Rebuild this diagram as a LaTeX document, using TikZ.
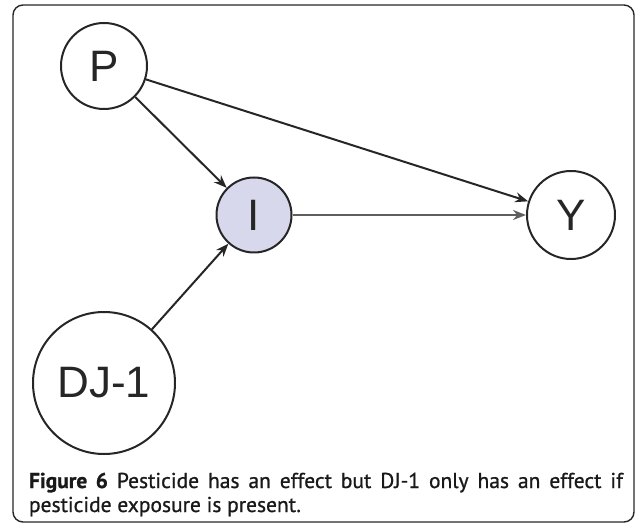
\documentclass[tikz,border=0pt]{standalone}
\usepackage{fontspec}
\setmainfont{Liberation Sans}
\newfontfamily\capfont[FakeBold=0.9]{PT Sans}
\usepackage{tikz}
\usetikzlibrary{arrows.meta}
\definecolor{lavender}{RGB}{216,216,236}
\definecolor{edgegray}{RGB}{95,95,95}

\begin{document}
\begin{tikzpicture}[x=1pt,y=-1pt,
    every node/.style={circle,draw=black!85,line width=2pt,text=black!85,
        font=\fontsize{44}{44}\selectfont,inner sep=0pt},
    edge/.style={line width=2pt,draw=black!85,-{Stealth[length=13pt,width=10pt]}}]

    % Frame of the figure
    \useasboundingbox (0,0) rectangle (637,526);
    \draw[line width=1.4pt,rounded corners=10pt,black!85] (13,5) rectangle (634,522);

    % Variables
    \node[minimum size=86pt] (P) at (104,66) {P};
    \node[minimum size=75pt,fill=lavender] (I) at (254,215) {I};
    \node[minimum size=88pt] (Y) at (571,215) {Y};
    \node[minimum size=142pt] (DJ) at (104,383) {DJ-1};

    % Effects
    \draw[edge] (P) -- (I);
    \draw[edge] (P) -- (Y);
    \draw[edge,draw=edgegray,line width=2.8pt] (I) -- (Y);
    \draw[edge] (DJ) -- (I);

    % Caption
    \node[draw=none,shape=rectangle,anchor=base west,text=black!90,
        font=\capfont\fontsize{21.5}{24}\selectfont] (cap1) at (28,488)
        {\makebox[594pt][s]{\textbf{Figure 6} Pesticide has an effect but DJ-1 only has an effect if}};
    \node[draw=none,shape=rectangle,anchor=base west,text=black!90,
        font=\capfont\fontsize{21.5}{24}\selectfont] (cap2) at (28,512)
        {pesticide exposure is present.};

\end{tikzpicture}
\end{document}
